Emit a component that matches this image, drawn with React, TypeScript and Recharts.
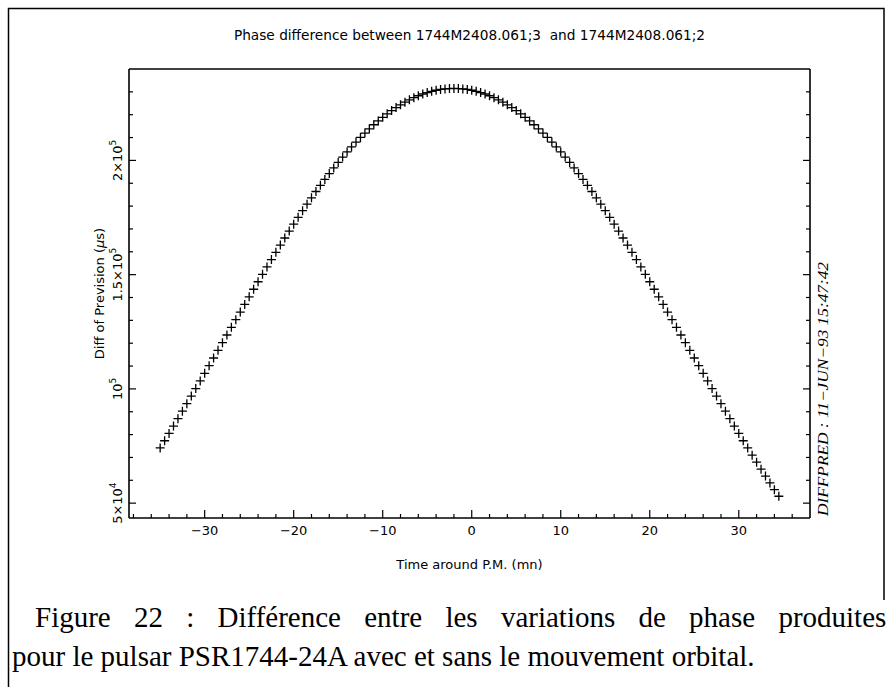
import React from 'react';
import { ScatterChart, Scatter, XAxis, YAxis } from 'recharts';

// ---- data ----
const TIME_MN = [
  -35, -34.5, -34, -33.5, -33, -32.5, -32, -31.5, -31, -30.5,
  -30, -29.5, -29, -28.5, -28, -27.5, -27, -26.5, -26, -25.5,
  -25, -24.5, -24, -23.5, -23, -22.5, -22, -21.5, -21, -20.5,
  -20, -19.5, -19, -18.5, -18, -17.5, -17, -16.5, -16, -15.5,
  -15, -14.5, -14, -13.5, -13, -12.5, -12, -11.5, -11, -10.5,
  -10, -9.5, -9, -8.5, -8, -7.5, -7, -6.5, -6, -5.5,
  -5, -4.5, -4, -3.5, -3, -2.5, -2, -1.5, -1, -0.5,
  0, 0.5, 1, 1.5, 2, 2.5, 3, 3.5, 4, 4.5,
  5, 5.5, 6, 6.5, 7, 7.5, 8, 8.5, 9, 9.5,
  10, 10.5, 11, 11.5, 12, 12.5, 13, 13.5, 14, 14.5,
  15, 15.5, 16, 16.5, 17, 17.5, 18, 18.5, 19, 19.5,
  20, 20.5, 21, 21.5, 22, 22.5, 23, 23.5, 24, 24.5,
  25, 25.5, 26, 26.5, 27, 27.5, 28, 28.5, 29, 29.5,
  30, 30.5, 31, 31.5, 32, 32.5, 33, 33.5, 34, 34.5,
];

const DIFF_US = [
  74150, 77310, 80510, 83730, 86980, 90250, 93530, 96840, 100160, 103490,
  106830, 110170, 113530, 116880, 120230, 123590, 126940, 130300, 133640, 136980,
  140300, 143610, 146900, 150160, 153400, 156610, 159790, 162930, 166030, 169090,
  172100, 175070, 177980, 180840, 183640, 186390, 189070, 191690, 194240, 196720,
  199130, 201470, 203730, 205910, 208020, 210040, 211980, 213830, 215600, 217280,
  218870, 220380, 221790, 223110, 224340, 225480, 226510, 227460, 228300, 229050,
  229700, 230250, 230700, 231050, 231300, 231450, 231500, 231450, 231300, 231050,
  230700, 230250, 229700, 229050, 228300, 227460, 226510, 225480, 224340, 223110,
  221790, 220380, 218870, 217280, 215600, 213830, 211980, 210040, 208020, 205910,
  203730, 201470, 199130, 196720, 194240, 191690, 189070, 186390, 183640, 180840,
  177980, 175070, 172100, 169090, 166030, 162930, 159790, 156610, 153400, 150160,
  146900, 143610, 140300, 136980, 133640, 130300, 126940, 123590, 120230, 116880,
  113530, 110170, 106830, 103490, 100160, 96840, 93530, 90250, 86980, 83730,
  80510, 77310, 74150, 71010, 67910, 64850, 61830, 58840, 55900, 53010,
];

const X_DOMAIN = [-38.5, 38];
const Y_DOMAIN = [43500, 240000];
const X_TICKS = [-38, -36, -34, -32, -30, -28, -26, -24, -22, -20, -18, -16, -14, -12, -10, -8, -6, -4, -2,
  0, 2, 4, 6, 8, 10, 12, 14, 16, 18, 20, 22, 24, 26, 28, 30, 32, 34, 36];
const X_MAJOR_TICKS = [-30, -20, -10, 0, 10, 20, 30];
const Y_TICKS = [50000, 60000, 70000, 80000, 90000, 100000, 110000, 120000, 130000, 140000,
  150000, 160000, 170000, 180000, 190000, 200000, 210000, 220000, 230000];
const Y_MAJOR_TICKS = [50000, 100000, 150000, 200000];
const Y_TICK_MANTISSA = ['5×10', '10', '1.5×10', '2×10'];
const Y_TICK_EXPONENT = ['4', '5', '5', '5'];

const TITLE = 'Phase difference between 1744M2408.061;3  and 1744M2408.061;2';
const X_TITLE = 'Time around P.M. (mn)';
const Y_TITLE_MAIN = 'Diff of Prevision (';
const STAMP = 'DIFFPRED : 11\u2212JUN\u221293 15:47:42';
const CAPTION_1 = 'Figure 22 : Différence entre les variations de phase produites';
const CAPTION_2 = 'pour le pulsar PSR1744-24A avec et sans le mouvement orbital.';

// ---- layout ----
const W = 888;
const H = 687;
const MARGIN = { top: 68, right: 77, bottom: 168, left: 128 };
const AXIS_FONT = '"DejaVu Sans", "Liberation Sans", sans-serif';
const SERIF = '"Liberation Serif", "Times New Roman", serif';

const data = TIME_MN.map((t, i) => ({ t, v: DIFF_US[i] }));

const fmtX = (v: number) => (v < 0 ? '\u2212' + Math.abs(v) : String(v));

const BottomTick = (props: any) => {
  const { x, y, payload } = props;
  const major = X_MAJOR_TICKS.includes(payload.value);
  return (
    <g>
      <line x1={x} x2={x} y1={y} y2={y - (major ? 8 : 4)} stroke="#000" strokeWidth={1.2} />
      {major && (
        <text x={x} y={y + 17} textAnchor="middle" fontSize={13} fontFamily={AXIS_FONT} fill="#000">
          {fmtX(payload.value)}
        </text>
      )}
    </g>
  );
};

const TopTick = (props: any) => {
  const { x, y, payload } = props;
  const major = X_MAJOR_TICKS.includes(payload.value);
  return <line x1={x} x2={x} y1={y} y2={y + (major ? 8 : 4)} stroke="#000" strokeWidth={1.2} />;
};

const LeftTick = (props: any) => {
  const { x, y, payload } = props;
  const idx = Y_MAJOR_TICKS.indexOf(payload.value);
  const major = idx >= 0;
  return (
    <g>
      <line x1={x} x2={x + (major ? 7 : 4)} y1={y} y2={y} stroke="#000" strokeWidth={1.2} />
      {major && (
        <text
          transform={`translate(${x - 7},${y}) rotate(-90)`}
          textAnchor="middle"
          fontSize={13}
          fontFamily={AXIS_FONT}
          fill="#000"
        >
          {Y_TICK_MANTISSA[idx]}
          <tspan dy={-6} fontSize={9}>{Y_TICK_EXPONENT[idx]}</tspan>
        </text>
      )}
    </g>
  );
};

const RightTick = (props: any) => {
  const { x, y, payload } = props;
  const major = Y_MAJOR_TICKS.includes(payload.value);
  return <line x1={x} x2={x - (major ? 7 : 4)} y1={y} y2={y} stroke="#000" strokeWidth={1.2} />;
};

const PlusMarker = (props: any) => {
  const { cx, cy } = props;
  if (cx == null || cy == null) return null;
  return <path d={`M${cx - 4.5},${cy}h9M${cx},${cy - 4.5}v9`} stroke="#000" strokeWidth={1.3} fill="none" />;
};

const axisLine = { stroke: '#000', strokeWidth: 1.6 };

export default function App() {
  const plotLeft = MARGIN.left + 1;
  const plotRight = W - MARGIN.right - 1;
  const plotTop = MARGIN.top + 1;
  const plotBottom = H - MARGIN.bottom - 1;
  const plotCx = (plotLeft + plotRight) / 2;
  const plotCy = (plotTop + plotBottom) / 2;
  return (
    <div style={{ position: 'absolute', left: 0, top: 0, width: W, height: H, background: '#fff', overflow: 'hidden' }}>
      <div style={{ position: 'absolute', left: 0, top: 0 }}>
        <ScatterChart width={W} height={H} margin={MARGIN}>
          <XAxis
            xAxisId="bottom"
            dataKey="t"
            type="number"
            orientation="bottom"
            domain={X_DOMAIN}
            allowDataOverflow
            ticks={X_TICKS}
            interval={0}
            height={1}
            tickSize={0}
            tickMargin={0}
            tickLine={false}
            axisLine={axisLine}
            tick={<BottomTick />}
          />
          <XAxis
            xAxisId="top"
            type="number"
            orientation="top"
            domain={X_DOMAIN}
            allowDataOverflow
            ticks={X_TICKS}
            interval={0}
            height={1}
            tickSize={0}
            tickMargin={0}
            tickLine={false}
            axisLine={axisLine}
            tick={<TopTick />}
          />
          <YAxis
            yAxisId="left"
            dataKey="v"
            type="number"
            orientation="left"
            domain={Y_DOMAIN}
            allowDataOverflow
            ticks={Y_TICKS}
            interval={0}
            width={1}
            tickSize={0}
            tickMargin={0}
            tickLine={false}
            axisLine={axisLine}
            tick={<LeftTick />}
          />
          <YAxis
            yAxisId="right"
            type="number"
            orientation="right"
            domain={Y_DOMAIN}
            allowDataOverflow
            ticks={Y_TICKS}
            interval={0}
            width={1}
            tickSize={0}
            tickMargin={0}
            tickLine={false}
            axisLine={axisLine}
            tick={<RightTick />}
          />
          <Scatter
            data={data}
            xAxisId="bottom"
            yAxisId="left"
            shape={<PlusMarker />}
            isAnimationActive={false}
          />
        </ScatterChart>
      </div>
      <svg width={W} height={H} style={{ position: 'absolute', left: 0, top: 0, pointerEvents: 'none' }}>
        <path d="M8.5,687 V8.5 H884 V600" stroke="#000" strokeWidth={1.5} fill="none" />
        <text x={plotCx} y={40} textAnchor="middle" fontSize={13.7} fontFamily={AXIS_FONT} fill="#000" style={{ whiteSpace: 'pre' }}>
          {TITLE}
        </text>
        <text x={plotCx} y={569} textAnchor="middle" fontSize={13} fontFamily={AXIS_FONT} fill="#000">
          {X_TITLE}
        </text>
        <text
          transform={`translate(104,${plotCy}) rotate(-90)`}
          textAnchor="middle"
          fontSize={13}
          fontFamily={AXIS_FONT}
          fill="#000"
        >
          {Y_TITLE_MAIN}
          <tspan fontStyle="italic">μ</tspan>s)
        </text>
        <text
          transform="translate(828,516) rotate(-90)"
          fontSize={15}
          fontStyle="italic"
          fontFamily={SERIF}
          fill="#000"
          textLength={254}
          lengthAdjust="spacingAndGlyphs"
        >
          {STAMP}
        </text>
        <text x={35} y={627} fontSize={29} fontFamily={SERIF} fill="#000" wordSpacing={16}>
          {CAPTION_1}
        </text>
        <text x={12} y={666} fontSize={29} fontFamily={SERIF} fill="#000">
          {CAPTION_2}
        </text>
      </svg>
    </div>
  );
}
